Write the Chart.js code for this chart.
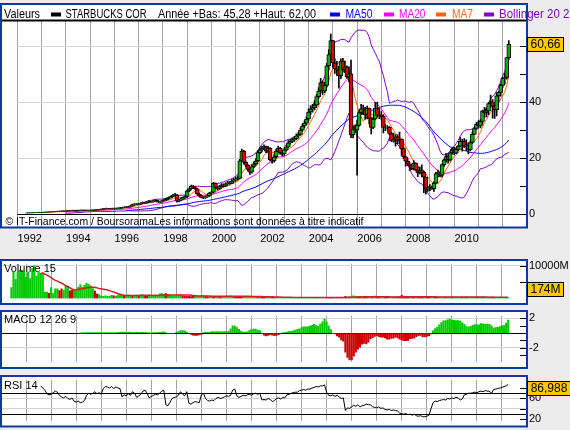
<!DOCTYPE html>
<html>
<head>
<meta charset="utf-8">
<script src="https://cdn.jsdelivr.net/npm/chart.js"></script>
<style>
  html, body { margin: 0; padding: 0; background: #ececec; }
  body { width: 570px; height: 430px; position: relative; overflow: hidden; }
  canvas { position: absolute; left: 0px; }
</style>
</head>
<body>
<canvas id="mainChart" width="570" height="252" style="top:0px"></canvas>
<canvas id="volChart" width="570" height="52" style="top:255px"></canvas>
<canvas id="macdChart" width="570" height="64" style="top:307px"></canvas>
<canvas id="rsiChart" width="570" height="59" style="top:371px"></canvas>
<script>
// Monthly data, first candle = June 1992 (month 5 counted from Jan 1992)
const firstMonth = 5;
const firstOpen = 0.40;

const closes = [
  0.42, 0.45, 0.48, 0.50, 0.52, 0.55, 0.60,
  0.62, 0.70, 0.72, 0.75, 0.80, 0.85, 0.90, 0.95, 1.00, 1.05, 1.10, 1.05,
  1.10, 1.15, 1.20, 1.25, 1.20, 1.15, 1.25, 1.30, 1.35, 1.30, 1.25, 1.30,
  1.35, 1.40, 1.45, 1.55, 1.60, 1.70, 1.80, 1.95, 2.00, 1.90, 1.85, 1.90,
  1.90, 2.00, 2.10, 2.20, 2.35, 2.50, 2.40, 2.60, 3.00, 3.40, 3.60, 3.50,
  3.60, 3.90, 4.10, 4.00, 4.30, 4.60, 4.40, 4.70, 4.90, 4.50, 4.30, 4.60,
  4.80, 5.20, 5.60, 5.90, 6.30, 6.80, 6.90, 4.60, 5.00, 5.50, 5.90, 6.30,
  8.30, 9.00, 10.00, 9.50, 9.00, 7.20, 6.50, 6.00, 5.80, 6.20, 6.50, 7.50,
  7.80, 11.00, 9.50, 9.00, 9.80, 10.50, 10.00, 10.80, 11.20, 11.00, 11.80, 12.20,
  12.50, 12.80, 19.00, 22.50, 18.50, 17.50, 16.00, 15.00, 17.00, 18.00, 19.00, 22.00,
  23.00, 23.50, 24.00, 22.50, 23.50, 19.50, 19.00, 20.50, 22.50, 23.50, 22.00, 21.50,
  23.00, 24.00, 25.50, 26.00, 26.50, 27.00, 28.00, 28.50, 30.00, 31.50, 32.50, 34.00,
  36.50, 37.50, 38.00, 39.00, 42.00, 44.00, 47.00, 44.00, 46.00, 53.00, 57.00, 62.00,
  54.00, 51.80, 51.70, 49.50, 54.70, 51.60, 52.50, 49.00, 50.10, 28.30, 30.40, 30.00,
  31.70, 36.30, 37.60, 37.30, 35.60, 37.80, 34.20, 31.00, 34.00, 37.80, 35.30, 35.40,
  34.90, 31.00, 31.00, 31.00, 28.80, 26.20, 26.70, 27.60, 26.20, 26.70, 23.40, 20.50,
  18.90, 17.90, 17.50, 16.20, 18.20, 15.70, 14.70, 15.60, 14.90, 13.20, 8.90, 9.50,
  9.40, 9.10, 11.10, 14.50, 14.40, 13.90, 17.70, 19.40, 20.60, 19.40, 21.90, 23.10,
  21.80, 23.10, 24.30, 26.00, 26.00, 24.30, 24.80, 22.90, 25.60, 28.50, 30.60, 32.10,
  31.50, 33.10, 36.90, 36.20, 36.90, 39.50, 40.10, 38.60, 37.30, 42.30, 43.50, 46.00,
  48.50, 48.80, 55.90, 60.66
];

const highs = [
  0.45, 0.48, 0.50, 0.52, 0.55, 0.58, 0.62,
  0.66, 0.73, 0.76, 0.79, 0.84, 0.89, 0.94, 0.99, 1.05, 1.10, 1.15, 1.14,
  1.15, 1.20, 1.26, 1.30, 1.29, 1.24, 1.30, 1.36, 1.41, 1.39, 1.34, 1.35,
  1.40, 1.46, 1.52, 1.62, 1.68, 1.78, 1.90, 2.05, 2.12, 2.08, 1.98, 1.98,
  2.00, 2.08, 2.20, 2.30, 2.45, 2.62, 2.58, 2.72, 3.12, 3.55, 3.78, 3.75,
  3.75, 4.05, 4.30, 4.25, 4.45, 4.80, 4.70, 4.85, 5.10, 5.00, 4.65, 4.75,
  5.00, 5.40, 5.80, 6.20, 6.50, 7.10, 7.40, 7.00, 5.30, 5.80, 6.20, 6.60,
  8.60, 9.40, 10.40, 10.30, 9.80, 9.20, 7.50, 6.80, 6.30, 6.50, 6.90, 7.80,
  8.20, 11.40, 11.20, 9.90, 10.20, 10.90, 10.80, 11.20, 11.70, 11.60, 12.30, 12.80,
  13.20, 13.50, 19.60, 23.20, 22.80, 19.00, 17.80, 16.30, 17.60, 18.70, 19.80, 22.80,
  23.80, 24.20, 24.80, 24.30, 24.20, 23.80, 20.30, 21.30, 23.20, 24.30, 23.90, 22.60,
  23.60, 24.70, 26.30, 26.80, 27.30, 27.80, 28.70, 29.20, 30.70, 32.30, 33.30, 34.80,
  37.60, 38.80, 39.20, 40.50, 42.80, 45.20, 48.50, 47.60, 46.90, 53.80, 58.80, 64.30,
  62.00, 55.50, 54.60, 52.80, 55.50, 55.70, 54.70, 53.00, 52.60, 55.00, 31.50, 31.90,
  33.60, 37.00, 39.20, 39.00, 38.20, 38.60, 37.90, 34.50, 34.50, 39.90, 40.00, 37.60,
  36.60, 35.60, 31.90, 31.60, 31.30, 29.10, 29.00, 28.40, 28.30, 29.30, 26.90, 23.80,
  20.70, 19.90, 18.40, 17.70, 19.10, 18.30, 17.10, 16.80, 17.60, 15.40, 13.20, 9.90,
  10.60, 10.00, 11.50, 14.90, 15.70, 15.10, 17.90, 19.70, 21.60, 21.30, 22.20, 23.60,
  23.90, 23.50, 24.70, 27.50, 26.80, 27.00, 26.50, 25.50, 26.20, 29.30, 31.00, 32.80,
  33.40, 33.70, 37.20, 38.20, 37.80, 39.80, 42.50, 40.90, 39.70, 43.30, 43.90, 46.50,
  49.00, 50.30, 56.00, 62.00
];

const lows = [
  0.38, 0.40, 0.43, 0.46, 0.48, 0.50, 0.53,
  0.57, 0.60, 0.67, 0.70, 0.73, 0.78, 0.82, 0.87, 0.92, 0.97, 1.02, 1.01,
  1.01, 1.06, 1.11, 1.16, 1.15, 1.10, 1.12, 1.21, 1.26, 1.25, 1.20, 1.21,
  1.26, 1.31, 1.36, 1.42, 1.50, 1.56, 1.65, 1.76, 1.88, 1.84, 1.78, 1.80,
  1.80, 1.85, 1.95, 2.05, 2.15, 2.30, 2.30, 2.35, 2.55, 2.95, 3.30, 3.38,
  3.40, 3.50, 3.80, 3.85, 3.90, 4.20, 4.25, 4.30, 4.60, 4.40, 4.15, 4.20,
  4.40, 4.70, 5.10, 5.40, 5.80, 6.20, 6.50, 4.30, 4.40, 4.80, 5.30, 5.70,
  6.10, 8.00, 8.80, 9.10, 8.70, 7.00, 6.20, 5.80, 5.50, 5.60, 6.00, 6.40,
  7.20, 7.60, 9.10, 8.60, 8.80, 9.60, 9.60, 9.80, 10.60, 10.60, 10.90, 11.50,
  11.80, 12.10, 12.60, 18.70, 17.90, 16.80, 15.40, 14.20, 14.60, 16.60, 17.60, 18.70,
  21.60, 22.40, 23.00, 22.00, 22.00, 19.00, 18.20, 18.60, 20.10, 22.00, 21.40, 20.70,
  21.00, 22.60, 23.80, 25.00, 25.50, 26.00, 26.60, 27.40, 28.20, 29.60, 31.00, 32.00,
  33.40, 35.60, 36.40, 37.20, 38.60, 41.40, 43.20, 42.80, 43.40, 45.50, 51.50, 55.80,
  52.40, 50.30, 49.60, 45.00, 48.40, 50.70, 50.50, 48.50, 47.20, 27.30, 27.20, 29.20,
  13.90, 31.40, 35.60, 35.50, 33.90, 34.00, 32.20, 28.70, 30.50, 33.70, 34.60, 34.10,
  33.80, 29.00, 29.80, 30.40, 28.30, 25.90, 25.70, 24.30, 25.20, 25.00, 21.00, 19.80,
  17.10, 17.30, 15.60, 15.90, 15.80, 15.60, 13.40, 14.30, 13.30, 7.70, 7.10, 8.10,
  8.40, 8.80, 8.10, 10.80, 13.30, 13.30, 13.30, 17.00, 18.60, 18.20, 18.90, 21.40,
  21.20, 21.60, 22.70, 24.00, 22.50, 23.80, 22.80, 21.50, 22.60, 25.20, 28.40, 30.30,
  30.80, 30.80, 32.20, 34.60, 34.70, 35.50, 38.10, 34.30, 34.20, 35.10, 40.30, 42.10,
  45.28, 46.50, 48.20, 55.20
];

// volume in millions of shares
const volumes = [
  3300, 8000, 5800, 8000, 8600, 8600, 8000,
  6400, 8000, 6000, 9000, 10000, 6800, 8000, 7600, 7600, 1900, 1900, 1550,
  3300, 1450, 2900, 2900, 2350, 2900, 2500, 3700, 3700, 2300, 2500, 2700,
  2700, 3400, 4200, 3400, 4000, 4600, 4300, 3800, 3000, 2200, 1300, 1150,
  700, 600, 800, 600, 700, 900, 800, 600, 1000, 1100, 1200, 800,
  1000, 1100, 900, 800, 800, 1000, 900, 1100, 1000, 800, 900, 800,
  800, 900, 1000, 900, 1400, 1500, 1300, 1500, 1200, 900, 800, 700,
  900, 1000, 1000, 800, 700, 600, 650, 550, 650, 600, 650, 750,
  850, 800, 700, 600, 650, 650, 600, 600, 650, 600, 600, 650,
  700, 650, 800, 650, 600, 600, 550, 600, 650, 550, 500, 550,
  550, 500, 500, 450, 450, 500, 450, 400, 350, 300, 300, 300,
  280, 250, 280, 250, 250, 250, 280, 250, 250, 280, 250, 250,
  280, 250, 280, 280, 250, 280, 300, 280, 250, 280, 280, 280,
  300, 280, 280, 300, 280, 250, 250, 280, 250, 600, 500, 450,
  700, 750, 550, 500, 600, 550, 500, 500, 450, 550, 500, 450,
  450, 450, 400, 400, 450, 450, 400, 450, 400, 450, 500, 500,
  900, 500, 500, 450, 450, 450, 500, 450, 500, 550, 500, 450,
  450, 450, 500, 450, 400, 400, 400, 400, 400, 400, 380, 380,
  420, 400, 400, 420, 420, 400, 380, 380, 380, 400, 380, 380,
  400, 380, 400, 380, 380, 360, 380, 400, 380, 360, 340, 320,
  340, 300, 360, 174
];

// RSI 14, starting Aug 1993
const rsiStart = 14;
const rsiValues = [
  84, 80, 76, 69, 67,
  68, 71, 74, 72, 66, 63, 61, 64, 60, 58, 61, 55,
  53, 55, 52, 53, 56, 66, 70, 68, 70, 73, 69, 71,
  68, 79, 83, 82, 80, 83, 79, 82, 80, 79, 63, 67,
  65, 69, 66, 73, 70, 62, 65, 68, 74, 76, 70, 61,
  64, 66, 68, 67, 70, 74, 76, 48, 46, 53, 60, 62,
  63, 66, 73, 68, 65, 73, 51, 49, 52, 54, 53, 52,
  67, 70, 60, 56, 55, 57, 56, 60, 62, 60, 61, 63,
  65, 64, 66, 76, 78, 65, 62, 64, 66, 65, 67, 68,
  66, 69, 70, 68, 70, 57, 58, 57, 60, 58, 54, 56,
  60, 61, 59, 62, 61, 67, 68, 70, 71, 72, 72, 75,
  76, 77, 76, 78, 78, 80, 81, 83, 82, 84, 84, 86,
  72, 66, 65, 67, 64, 66, 63, 60, 61, 37, 42, 41,
  44, 47, 45, 48, 44, 46, 47, 49, 48, 48, 44, 43,
  42, 44, 41, 42, 39, 38, 39, 37, 38, 37, 36, 32,
  31, 30, 31, 29, 30, 28, 30, 27, 26, 27, 25, 25,
  26, 28, 40, 52, 55, 54, 56, 57, 58, 57, 60, 59,
  61, 60, 62, 61, 57, 59, 67, 68, 70, 70, 71, 72,
  71, 73, 74, 73, 75, 74, 74, 70, 77, 78, 79, 80,
  81, 83, 84, 86.988
];

const yearTicks = [0, 12, 24, 36, 48, 60, 72, 84, 96, 108, 120, 132, 144, 156, 168, 180, 192, 204, 216, 228, 240];
const yearLabels = [1992, 1994, 1996, 1998, 2000, 2002, 2004, 2006, 2008, 2010];
const priceTicks = [0, 10, 20, 30, 40, 50, 60];
const priceLabels = [0, 20, 40];
const volTicks = [5000, 10000];
const macdTicks = [-3, -2, -1, 0, 1, 2];
const macdLabels = [-2, 2];
const rsiTicks = [20, 30, 40, 60, 70, 80];
const rsiLabels = [20, 60];

const lastPrice = '60,66';
const lastVolume = '174M';
const lastRsi = '86,988';
const yearLow = '45,28';
const yearHigh = '62,00';

const BLUE = '#10399c';
const UP = '#00b400';
const DOWN = '#e00000';
const GREY = '#d4d4d4';
const PURPLE = '#8400c8';
const PLOT_LEFT = 1;
const PLOT_RIGHT = 527;

Chart.defaults.font.family = "'Liberation Sans', Arial, sans-serif";
Chart.defaults.font.size = 11;
Chart.defaults.color = '#000';

// --- indicators named in the legends (computed from the monthly closes) ---
const sma = (values, n) => values.map((v, i) => {
  if (i < n - 1) return null;
  let s = 0;
  for (let k = i - n + 1; k <= i; k++) s += values[k];
  return s / n;
});

const bollinger = (values, n, mult, side) => {
  const mid = sma(values, n);
  return values.map((v, i) => {
    if (mid[i] === null) return null;
    let s = 0;
    for (let k = i - n + 1; k <= i; k++) s += (values[k] - mid[i]) ** 2;
    return mid[i] + side * mult * Math.sqrt(s / n);
  });
};

const ema = (values, n) => {
  const k = 2 / (n + 1);
  let prev = values[0];
  return values.map((v, i) => (i === 0 ? v : (prev = v * k + prev * (1 - k))));
};

const opens = closes.map((c, i) => (i === 0 ? firstOpen : closes[i - 1]));
const months = closes.map((c, i) => firstMonth + i);
const pts = (values, offset = 0) => values.map((v, i) => ({ x: months[i + offset], y: v }));

const ma7 = sma(closes, 7);
const ma20 = sma(closes, 20);
const ma50 = sma(closes, 50);
const bollUp = bollinger(closes, 20, 2, 1);
const bollDown = bollinger(closes, 20, 2, -1);
const vol15 = sma(volumes, 15);

const ema12 = ema(closes, 12);
const ema26 = ema(closes, 26);
const macdLine = closes.map((c, i) => ema12[i] - ema26[i]);
const signal = ema(macdLine.slice(25), 9);
const macdHist = closes.map((c, i) => (i < 33 ? null : macdLine[i] - signal[i - 25]));

// --- shared axis builders ---
function xScale(showLabels) {
  return {
    type: 'linear',
    min: 0,
    max: 252,
    offset: false,
    afterBuildTicks: (s) => { s.ticks = yearTicks.map((v) => ({ value: v })); },
    afterFit: (s) => { s.height = showLabels ? 25 : 0; },
    grid: { color: '#a3a3a3', lineWidth: 1, drawTicks: false, offset: false },
    border: { display: false },
    ticks: showLabels
      ? {
          autoSkip: false,
          maxRotation: 0,
          padding: 5,
          labelOffset: 12.5,
          callback: (v) => (yearLabels.includes(1992 + v / 12) ? String(1992 + v / 12) : ''),
        }
      : { display: false },
  };
}

function yScale(min, max, ticks, labelFn, gridFn) {
  return {
    position: 'right',
    min,
    max,
    afterBuildTicks: (s) => { s.ticks = ticks.map((v) => ({ value: v })); },
    afterFit: (s) => { s.width = 570 - PLOT_RIGHT; },
    grid: { color: (ctx) => gridFn(ctx.tick ? ctx.tick.value : null), drawTicks: false },
    border: { display: false },
    ticks: { padding: 2, autoSkip: false, callback: (v) => labelFn(v) },
  };
}

function fitText(c, text, x, baseline, width) {
  const w = c.measureText(text).width;
  c.save();
  c.translate(x, baseline);
  c.scale(width / w, 1);
  c.fillText(text, 0, 0);
  c.restore();
}

// frame, inner tick marks, title and value box of one panel
function panelPlugin(cfg) {
  return {
    id: 'panel',
    beforeDraw(chart) {
      const c = chart.ctx;
      c.save();
      c.fillStyle = '#fff';
      c.fillRect(PLOT_LEFT, cfg.frameTop, PLOT_RIGHT - PLOT_LEFT, cfg.frameBottom - cfg.frameTop);
      c.restore();
    },
    afterDraw(chart) {
      const c = chart.ctx;
      const ys = chart.scales.y;
      const area = chart.chartArea;
      c.save();
      c.strokeStyle = '#000';
      c.lineWidth = 1;
      cfg.marks.forEach((v) => {
        const py = Math.round(ys.getPixelForValue(v)) + 0.5;
        c.beginPath();
        c.moveTo(PLOT_RIGHT - 7, py);
        c.lineTo(PLOT_RIGHT, py);
        c.stroke();
      });
      if (cfg.extra) cfg.extra(c, chart);
      c.strokeStyle = BLUE;
      c.lineWidth = 2;
      c.strokeRect(PLOT_LEFT, cfg.frameTop, PLOT_RIGHT - PLOT_LEFT, cfg.frameBottom - cfg.frameTop);
      if (cfg.title) {
        c.fillStyle = '#000';
        c.font = "11px 'Liberation Sans', Arial, sans-serif";
        c.textBaseline = 'alphabetic';
        c.fillText(cfg.title, 4, cfg.titleY);
      }
      if (cfg.box) {
        c.font = "12px 'Liberation Sans', Arial, sans-serif";
        const w = Math.round(c.measureText(cfg.box.text).width) + 6;
        let py = ys.getPixelForValue(cfg.box.value);
        py = Math.max(area.top + 8, Math.min(area.bottom - 9, py));
        const top = Math.round(py - 7) + 0.5;
        c.fillStyle = '#fcc800';
        c.fillRect(PLOT_RIGHT + 0.5, top, w, 14);
        c.strokeStyle = '#000';
        c.lineWidth = 1;
        c.strokeRect(PLOT_RIGHT + 0.5, top, w, 14);
        c.fillStyle = '#000';
        c.textBaseline = 'middle';
        c.textAlign = 'center';
        c.fillText(cfg.box.text, PLOT_RIGHT + 0.5 + w / 2, top + 7.5);
      }
      c.restore();
    },
  };
}

const baseOptions = (padding) => ({
  responsive: false,
  animation: false,
  devicePixelRatio: 1,
  events: [],
  layout: { padding },
  plugins: { legend: { display: false }, tooltip: { enabled: false } },
});

const lineSet = (data, color, order, width = 1) => ({
  type: 'line',
  data,
  borderColor: color,
  borderWidth: width,
  pointRadius: 0,
  tension: 0,
  fill: false,
  spanGaps: false,
  order,
});

// header legend of the price panel
const headerItems = [
  { text: 'Valeurs', x: 4, w: 36, color: '#000' },
  { swatch: '#000', x: 51 },
  { text: 'STARBUCKS COR', x: 65.5, w: 81, color: '#000' },
  { text: `Année +Bas: ${yearLow} +Haut: ${yearHigh}`, x: 158, w: 158, color: '#000' },
  { swatch: '#0000ff', x: 330 },
  { text: 'MA50', x: 345.5, w: 27, color: '#0000ff' },
  { swatch: '#ff00ff', x: 384 },
  { text: 'MA20', x: 399, w: 26.5, color: '#ff00ff' },
  { swatch: '#ff6600', x: 436 },
  { text: 'MA7', x: 452, w: 21, color: '#ff6600' },
  { swatch: PURPLE, x: 484 },
  { text: 'Bollinger 20 2.0', x: 499, w: 80, color: PURPLE },
];

function drawHeader(c) {
  c.fillStyle = '#000';
  c.fillRect(2, 19.5, PLOT_RIGHT - 2, 2);
  c.font = "12px 'Liberation Sans', Arial, sans-serif";
  c.textBaseline = 'alphabetic';
  headerItems.forEach((it) => {
    if (it.swatch) {
      c.fillStyle = it.swatch;
      c.fillRect(it.x, 12.5, 10, 4);
    } else {
      c.fillStyle = it.color;
      fitText(c, it.text, it.x, 17.5, it.w);
    }
  });
  c.fillStyle = '#000';
  c.font = "11px 'Liberation Sans', Arial, sans-serif";
  fitText(c, '© IT-Finance.com / BoursoramaLes informations sont données à titre indicatif', 5.5, 224.5, 358);
}

// --- price panel ---
new Chart(document.getElementById('mainChart'), {
  type: 'bar',
  data: {
    datasets: [
      {
        type: 'bar',
        data: months.map((m, i) => ({ x: m, y: [opens[i], closes[i]] })),
        backgroundColor: closes.map((c, i) => (c >= opens[i] ? UP : DOWN)),
        borderColor: '#000',
        borderWidth: 1,
        borderSkipped: false,
        barThickness: 4,
        grouped: false,
        order: 0,
      },
      {
        type: 'bar',
        data: months.map((m, i) => ({ x: m, y: [lows[i], highs[i]] })),
        backgroundColor: '#000',
        barThickness: 1,
        grouped: false,
        order: 1,
      },
      lineSet(pts(ma7), '#ff6600', 2),
      lineSet(pts(ma20), '#ff00ff', 3),
      lineSet(pts(ma50), '#0000ff', 4),
      lineSet(pts(bollUp), PURPLE, 5),
      lineSet(pts(bollDown), PURPLE, 6),
    ],
  },
  options: {
    ...baseOptions({ left: PLOT_LEFT, top: 21, right: 0, bottom: 0 }),
    scales: {
      x: xScale(true),
      y: yScale(-4.6, 69, priceTicks,
        (v) => (priceLabels.includes(v) ? String(v) : ''),
        (v) => (v === 0 ? '#000' : v % 20 === 0 ? GREY : 'rgba(0,0,0,0)')),
    },
  },
  plugins: [panelPlugin({
    frameTop: 4, frameBottom: 227.5, marks: priceTicks,
    box: { text: lastPrice, value: 60.66 },
    extra: drawHeader,
  })],
});

// --- volume panel ---
new Chart(document.getElementById('volChart'), {
  type: 'bar',
  data: {
    datasets: [
      {
        type: 'bar',
        data: pts(volumes),
        backgroundColor: closes.map((c, i) => (c >= opens[i] ? '#00cc00' : '#cc0000')),
        barThickness: 1.5,
        grouped: false,
        order: 1,
      },
      lineSet(pts(vol15), '#d42020', 0, 1.5),
    ],
  },
  options: {
    ...baseOptions({ left: PLOT_LEFT, top: 6, right: 0, bottom: 4 }),
    scales: {
      x: xScale(false),
      y: yScale(0, 10580, volTicks,
        (v) => (v === 10000 ? '10000M' : ''),
        (v) => (v === 10000 ? GREY : 'rgba(0,0,0,0)')),
    },
  },
  plugins: [panelPlugin({
    frameTop: 5, frameBottom: 49, marks: volTicks,
    title: 'Volume 15', titleY: 17.3,
    box: { text: lastVolume, value: 174 },
  })],
});

// --- MACD panel ---
new Chart(document.getElementById('macdChart'), {
  type: 'bar',
  data: {
    datasets: [{
      type: 'bar',
      data: pts(macdHist),
      backgroundColor: macdHist.map((v) => (v !== null && v < 0 ? '#cc0000' : '#00cc00')),
      barThickness: 1.5,
      grouped: false,
    }],
  },
  options: {
    ...baseOptions({ left: PLOT_LEFT, top: 4.5, right: 0, bottom: 4 }),
    scales: {
      x: xScale(false),
      y: yScale(-3.99, 2.39, macdTicks,
        (v) => (macdLabels.includes(v) ? String(v) : ''),
        (v) => (v === 0 ? '#000' : Math.abs(v) === 2 ? GREY : 'rgba(0,0,0,0)')),
    },
  },
  plugins: [panelPlugin({
    frameTop: 4, frameBottom: 61, marks: macdTicks,
    title: 'MACD 12 26 9', titleY: 16.3,
  })],
});

// --- RSI panel ---
new Chart(document.getElementById('rsiChart'), {
  type: 'line',
  data: {
    datasets: [lineSet(pts(rsiValues, rsiStart), '#000', 0, 1)],
  },
  options: {
    ...baseOptions({ left: PLOT_LEFT, top: 6, right: 0, bottom: 4 }),
    scales: {
      x: xScale(false),
      y: yScale(16.1, 96.1, rsiTicks,
        (v) => (rsiLabels.includes(v) ? String(v) : ''),
        (v) => (v === 30 || v === 70 ? '#000' : v === 40 || v === 60 ? GREY : 'rgba(0,0,0,0)')),
    },
  },
  plugins: [panelPlugin({
    frameTop: 5, frameBottom: 55.5, marks: [20, 40, 60, 80],
    title: 'RSI 14', titleY: 18,
    box: { text: lastRsi, value: 86.988 },
  })],
});
</script>
</body>
</html>
